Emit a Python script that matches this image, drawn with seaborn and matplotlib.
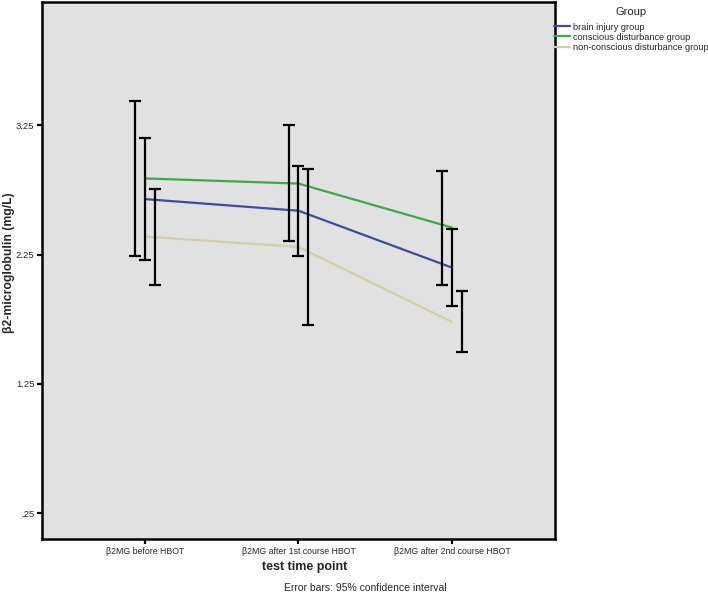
import matplotlib
matplotlib.use("Agg")
import matplotlib.pyplot as plt
import seaborn as sns
import pandas as pd
import numpy as np
from matplotlib.lines import Line2D

# ---- data ----
time_points = ["β2MG before HBOT", "β2MG after 1st course HBOT", "β2MG after 2nd course HBOT"]
groups = ["brain injury group", "conscious disturbance group", "non-conscious disturbance group"]
brain_mean = [2.68, 2.59, 2.15]
brain_lo = [2.21, 2.24, 1.85]
brain_hi = [3.15, 2.935, 2.446]
conscious_mean = [2.84, 2.80, 2.46]
conscious_lo = [2.242, 2.353, 2.013]
conscious_hi = [3.442, 3.25, 2.899]
nonconscious_mean = [2.39, 2.31, 1.73]
nonconscious_lo = [2.017, 1.707, 1.499]
nonconscious_hi = [2.757, 2.91, 1.968]
y_ticks = [0.25, 1.25, 2.25, 3.25]
y_tick_labels = [".25", "1.25", "2.25", "3.25"]

colors = {"brain injury group": "#3d4ba3",
          "conscious disturbance group": "#3aab44",
          "non-conscious disturbance group": "#d4cfa3"}
# SPSS dodges error bars: conscious left, brain middle, non-conscious right
offsets = {"conscious disturbance group": -0.063,
           "brain injury group": 0.0,
           "non-conscious disturbance group": 0.063}

rows = []
for g, m, lo, hi in [(groups[0], brain_mean, brain_lo, brain_hi),
                     (groups[1], conscious_mean, conscious_lo, conscious_hi),
                     (groups[2], nonconscious_mean, nonconscious_lo, nonconscious_hi)]:
    for i, tp in enumerate(time_points):
        rows.append({"Group": g, "time": tp, "x": i, "mean": m[i], "lo": lo[i], "hi": hi[i]})
df = pd.DataFrame(rows)

sns.set_style("white")
plt.rcParams['font.family'] = ['Liberation Sans', 'DejaVu Sans']

fig = plt.figure(figsize=(7.08, 5.94), dpi=100)
ax = fig.add_axes([42/708, 1-539/594, (555-42)/708, (539-2)/594])
ax.set_facecolor("#e1e1e1")

sns.lineplot(data=df, x="x", y="mean", hue="Group", palette=colors,
             hue_order=groups, linewidth=1.6, ax=ax, legend=False, errorbar=None)

for g in groups:
    sub = df[df["Group"] == g]
    xs = sub["x"].to_numpy() + offsets[g]
    ax.errorbar(xs, sub["mean"], yerr=[sub["mean"] - sub["lo"], sub["hi"] - sub["mean"]],
                fmt="none", ecolor="black", elinewidth=1.6, capsize=4, capthick=1.6, zorder=5)

ax.set_xlim(-0.672, 2.672)
ax.set_ylim(0.05, 4.205)
ax.set_xticks(range(len(time_points)))
ax.set_xticklabels(time_points, fontsize=6.3)
ax.set_yticks(y_ticks)
ax.set_yticklabels(y_tick_labels, fontsize=6.8)
ax.tick_params(axis="both", direction="out", length=3.5, width=1.6, color="black", pad=2)
ax.tick_params(axis="x", bottom=True)
ax.tick_params(axis="y", left=True)
for s in ax.spines.values():
    s.set_visible(True)
    s.set_color("black")
    s.set_linewidth(1.8)

ax.set_xlabel("test time point", fontsize=9, fontweight="bold")
ax.xaxis.set_label_coords((305-42)/513, -(561-539)/537)
ax.set_ylabel("β2-microglobulin (mg/L)", fontsize=8.8, fontweight="bold")
ax.yaxis.set_label_coords(-(27)/513, (539-263)/537)
fig.text(365/708, 1-588/594, "Error bars: 95% confidence interval", fontsize=7.5,
         ha="center", va="center")

handles = [Line2D([0], [0], color=colors[g], lw=1.6) for g in groups]
leg = fig.legend(handles, groups, title="Group", loc="upper left",
                 bbox_to_anchor=(554/708, 1-7/594), frameon=False, fontsize=6.6,
                 title_fontsize=8, handlelength=1.75, handletextpad=0.3,
                 labelspacing=0.12, borderpad=0, borderaxespad=0)
leg._legend_box.sep = 4

fig.savefig("out.png", dpi=100)
